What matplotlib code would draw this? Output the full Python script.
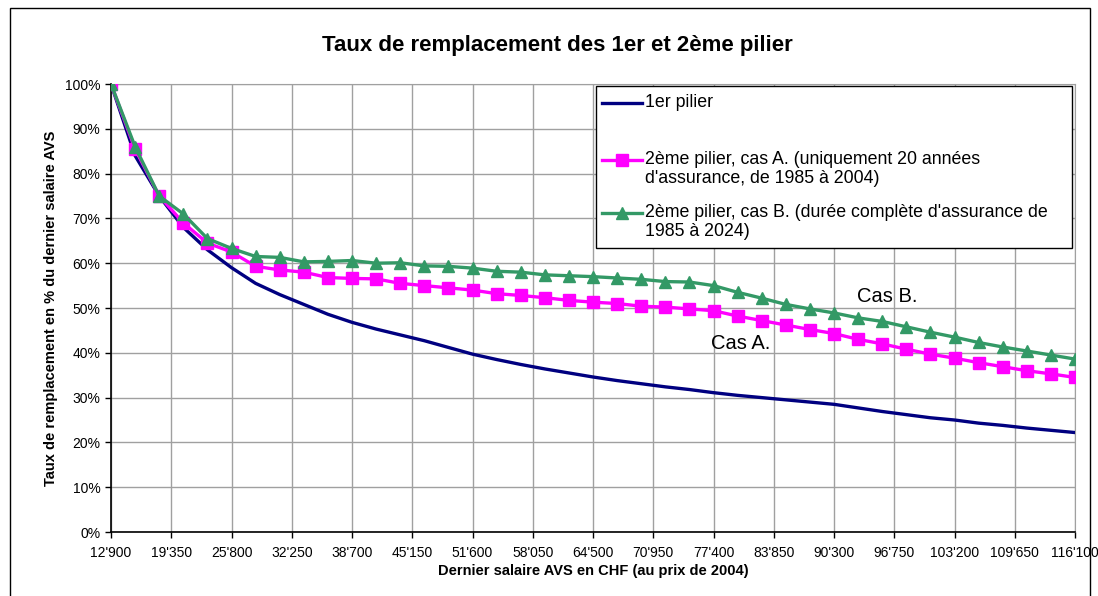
import matplotlib.pyplot as plt
import numpy as np
from matplotlib.lines import Line2D
from matplotlib.patches import Rectangle
from matplotlib.ticker import FuncFormatter

plt.rcParams['font.family'] = ['Liberation Sans', 'DejaVu Sans']

# salaries (CHF), one point every 2'580
salaire = np.arange(12900, 116100 + 1, 2580)

pilier1 = [100, 84, 75, 68, 63, 59, 55.5, 53, 50.8, 48.6, 46.8, 45.3, 44, 42.7, 41.2,
           39.7, 38.5, 37.4, 36.4, 35.5, 34.6, 33.8, 33.1, 32.4, 31.8, 31.1, 30.5,
           30.0, 29.5, 29.0, 28.5, 27.7, 26.9, 26.2, 25.5, 25.0, 24.3, 23.8, 23.2,
           22.7, 22.2]
casA = [100, 85.5, 75, 69, 64.5, 62.5, 59.3, 58.5, 58.0, 56.8, 56.6, 56.5, 55.5,
        55.0, 54.5, 54.0, 53.2, 52.8, 52.3, 51.7, 51.3, 51.0, 50.4, 50.2, 49.8,
        49.4, 48.2, 47.2, 46.2, 45.2, 44.3, 43.0, 42.0, 40.8, 39.7, 38.8, 37.8,
        36.9, 36.0, 35.3, 34.5]
casB = [100, 86, 75, 71, 65.5, 63.3, 61.5, 61.3, 60.3, 60.4, 60.6, 60.0, 60.1,
        59.4, 59.3, 58.9, 58.2, 58.0, 57.4, 57.2, 57.0, 56.7, 56.4, 55.9, 55.8,
        55.0, 53.5, 52.2, 50.8, 49.8, 48.9, 47.8, 47.0, 45.8, 44.6, 43.5, 42.3,
        41.3, 40.4, 39.5, 38.6]

xticks = np.arange(12900, 116100 + 1, 6450)

labels = ['1er pilier',
          "2ème pilier, cas A. (uniquement 20 années\nd'assurance, de 1985 à 2004)",
          "2ème pilier, cas B. (durée complète d'assurance de\n1985 à 2024)"]

c_blue, c_pink, c_green = '#000080', '#FF00FF', '#339966'

fig = plt.figure(figsize=(10.98, 5.96), dpi=100)
ax = fig.add_axes([111/1098, 64/596, 964/1098, 448/596])

ax.plot(salaire, pilier1, color=c_blue, lw=2.4, zorder=3)
ax.plot(salaire, casA, color=c_pink, lw=2.4, marker='s', ms=8.5, mec=c_pink, zorder=4)
ax.plot(salaire, casB, color=c_green, lw=2.4, marker='^', ms=8.5, mec=c_green, zorder=5)

ax.set_xlim(12900, 116100)
ax.set_ylim(0, 100)
ax.set_xticks(xticks)
ax.xaxis.set_major_formatter(FuncFormatter(lambda v, p: f"{int(v):,}".replace(',', "'")))
ax.set_yticks(np.arange(0, 101, 10))
ax.yaxis.set_major_formatter(FuncFormatter(lambda v, p: f"{int(v)}%"))
ax.tick_params(direction='out', length=4, width=1, labelsize=10, colors='black')
ax.tick_params(axis='x', pad=6)
ax.grid(True, color='#a0a0a0', lw=1)
ax.set_axisbelow(True)
for s in ['top', 'right']:
    ax.spines[s].set_color('#a0a0a0')
for s in ['left', 'bottom']:
    ax.spines[s].set_linewidth(1.2)

ax.set_xlabel('Dernier salaire AVS en CHF (au prix de 2004)', fontsize=10.5,
              fontweight='bold', labelpad=3)
ax.set_ylabel('Taux de remplacement en % du dernier salaire AVS', fontsize=10.5,
              fontweight='bold', labelpad=5)

fig.text(557/1098, 1 - 45/596, 'Taux de remplacement des 1er et 2ème pilier',
         fontsize=16, fontweight='bold', ha='center', va='center')

ax.text(92760, 52.5, 'Cas B.', fontsize=14.5, ha='left', va='center')
ax.text(77130, 42, 'Cas A.', fontsize=14.5, ha='left', va='center')

# legend box drawn in figure pixels
W, H = 1098, 596
fig.patches.append(Rectangle((596/W, 1 - 248/H), 476/W, 162/H, transform=fig.transFigure,
                             fc='white', ec='black', lw=1, zorder=10))
entries = [(103, c_blue, None, labels[0]),
           (160, c_pink, 's', labels[1]),
           (213, c_green, '^', labels[2])]
for yp, col, mk, lab in entries:
    yf = 1 - yp/H
    fig.add_artist(Line2D([602/W, 642/W], [yf, yf], lw=2.4, color=col,
                          transform=fig.transFigure, zorder=11))
    if mk:
        fig.add_artist(Line2D([622/W], [yf], lw=0, marker=mk, ms=8, color=col, mec=col,
                              transform=fig.transFigure, zorder=12))
    fig.text(645/W, yf + 9/H, lab, fontsize=12.8, ha='left', va='top', zorder=12,
             linespacing=1.15)

# outer chart border
fig.patches.append(Rectangle((10/W, -0.01), 1080/W, 1 - 8/H + 0.01, transform=fig.transFigure,
                             fill=False, ec='black', lw=1, zorder=0))

fig.savefig('out.png', dpi=100)
